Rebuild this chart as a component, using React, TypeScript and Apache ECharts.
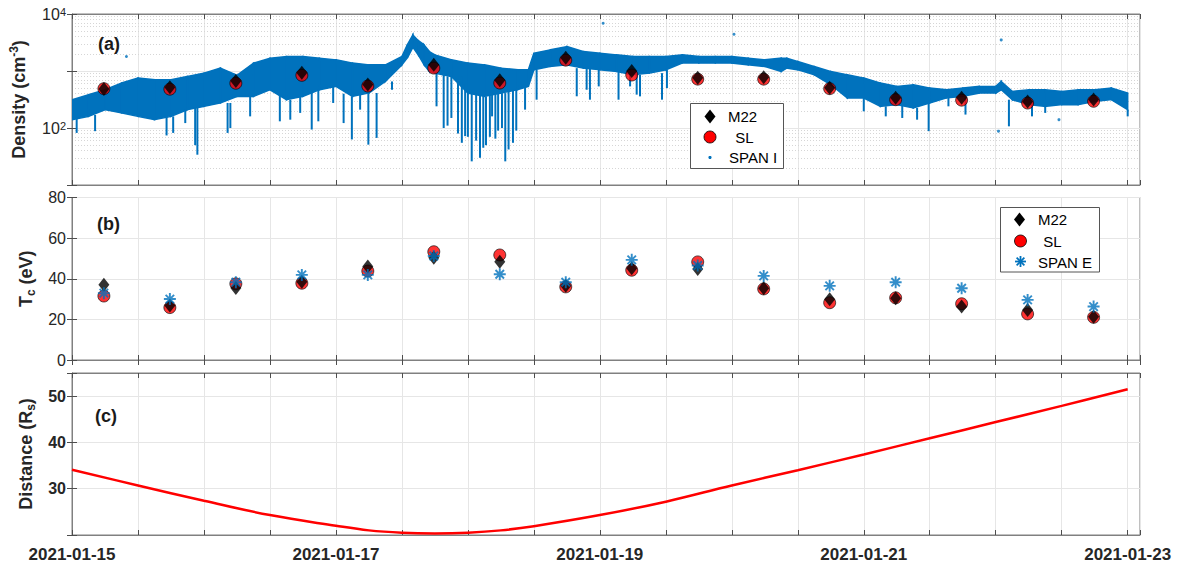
import React, { useEffect, useRef } from 'react';
import * as echarts from 'echarts';

// ---------- data ----------
const DATE_LABEL_HOURS = [0, 48, 96, 144, 192];
const DATE_LABELS = ['2021-01-15', '2021-01-17', '2021-01-19', '2021-01-21', '2021-01-23'];

// hours since 2021-01-15 00:00 of the model / electron samples
const SAMPLE_HOURS = [5.8, 17.8, 29.8, 41.8, 53.8, 65.8, 77.8, 89.8, 101.8, 113.8, 125.8, 137.8, 149.8, 161.8, 173.8, 185.8];
const DENSITY_M22 = [485, 520, 665, 930, 580, 1285, 690, 1710, 1000, 765, 775, 510, 338, 338, 293, 315];
const DENSITY_SL = [490, 480, 610, 840, 545, 1125, 615, 1550, 850, 720, 720, 490, 314, 308, 274, 294];
const TC_M22 = [37.0, 26.8, 35.5, 38.5, 46.0, 50.4, 48.4, 36.5, 45.2, 44.8, 35.3, 29.9, 30.4, 26.3, 24.6, 21.3];
const TC_SL = [31.5, 25.8, 37.5, 37.8, 43.8, 53.3, 51.7, 36.0, 44.2, 48.3, 35.0, 28.2, 30.6, 27.7, 22.7, 21.0];
const TC_SPANE = [32.9, 30.0, 38.3, 41.9, 41.9, 51.2, 42.2, 38.3, 49.3, 46.5, 41.4, 36.5, 38.3, 35.3, 29.6, 26.3];

// SPAN I density: core band (upper / lower envelope)
const SPANI_HOURS = [0, 3, 6, 9, 12, 15, 18, 21, 24, 27, 30, 33, 36, 39, 42, 45, 48, 51, 54, 57, 60, 61, 62, 63, 64, 65, 66, 69, 72, 75, 78, 81, 83, 84, 87, 90, 93, 96, 99, 102, 105, 108, 111, 114, 117, 120, 123, 126, 129, 130, 132, 135, 138, 141, 144, 147, 150, 153, 156, 159, 162, 165, 168, 169, 171, 174, 177, 180, 183, 186, 189, 192];
const SPANI_HIGH = [314, 384, 469, 614, 751, 702, 702, 802, 918, 1125, 840, 1375, 1680, 1790, 1790, 1680, 1570, 1375, 1282, 1282, 1790, 2900, 4300, 3400, 2900, 2195, 1920, 1570, 1375, 1283, 1122, 1050, 1050, 2050, 2350, 2685, 2195, 2050, 1920, 1795, 1795, 1795, 1920, 1795, 1795, 1795, 1680, 1570, 1680, 1680, 1470, 1200, 982, 859, 751, 614, 537, 574, 502, 469, 502, 537, 537, 656, 439, 469, 469, 439, 469, 469, 502, 410];
const SPANI_LOW = [140, 160, 210, 184, 160, 140, 160, 210, 239, 275, 358, 358, 469, 314, 358, 469, 536, 358, 411, 656, 1282, 1700, 2600, 1900, 1300, 980, 918, 802, 410, 359, 410, 469, 537, 1050, 1200, 1283, 1122, 1050, 982, 859, 918, 1050, 1375, 1375, 1375, 1375, 1283, 1200, 982, 1122, 1050, 859, 574, 336, 336, 240, 257, 225, 274, 336, 359, 410, 410, 469, 314, 257, 240, 257, 257, 293, 314, 210];
// SPAN I downward excursions: [hour, from, down to]
const SPANI_DIPS = [
  [0.85, 150, 82], [4.2, 170, 88], [17.2, 160, 74], [18.4, 160, 82], [20.6, 210, 122], [22.4, 230, 50], [22.8, 230, 34],
  [28.3, 275, 82], [28.8, 275, 100], [32.4, 358, 160], [37.8, 400, 131], [39.7, 314, 140], [41.5, 358, 184], [43.6, 469, 94],
  [44.8, 469, 131], [47.5, 536, 275], [49.4, 400, 122], [50.9, 358, 63], [52.4, 400, 210], [53.9, 411, 51], [55.4, 411, 67],
  [58.2, 656, 469], [66.3, 918, 240], [67.6, 850, 100], [68.3, 802, 110], [69.0, 802, 150], [70.2, 700, 80], [70.9, 802, 55],
  [71.5, 600, 72], [72.0, 410, 70], [72.7, 410, 26], [73.5, 410, 60], [74.2, 380, 30], [74.8, 380, 45], [75.3, 359, 50],
  [76.0, 380, 70], [76.4, 380, 160], [77.0, 400, 65], [77.5, 410, 90], [78.2, 410, 100], [78.8, 410, 26], [79.4, 469, 42],
  [80.2, 469, 55], [80.8, 469, 90], [82.4, 537, 210], [84.5, 1050, 314], [91.8, 1122, 360], [93.6, 1122, 469], [94.2, 1122, 314],
  [95.8, 1050, 537], [99.4, 982, 314], [101.5, 900, 537], [102.7, 859, 385], [103.3, 859, 359], [107.3, 918, 314], [108.2, 1050, 500],
  [144, 336, 196], [148, 240, 160], [151, 250, 150], [153.7, 225, 140], [155.8, 274, 88], [159.4, 336, 240], [162.5, 359, 172],
  [170.4, 314, 107], [174.6, 257, 160], [177, 240, 184], [192, 210, 160],
];
const SPANI_OUTLIERS = [[9.9, 1795], [96.6, 6870], [120.4, 4420], [169.0, 3510], [168.5, 88], [179.5, 140]];

// heliocentric distance
const DIST_HOURS = [0, 12, 24, 36, 48, 54, 60, 66, 72, 78, 84, 96, 108, 120, 132, 144, 156, 168, 180, 192];
const DIST_RS = [34.1, 30.7, 27.4, 24.3, 22.0, 21.0, 20.5, 20.35, 20.5, 21.0, 21.9, 24.3, 27.2, 30.7, 34.0, 37.4, 40.9, 44.4, 47.9, 51.5];

// ---------- style ----------
const FONT = '"Liberation Sans", Arial, Helvetica, sans-serif';
const BLUE = '#0072BD';
const RED = '#ff0000';
const AXIS_GRAY = '#808080';
const TEXT = '#262626';
const X_MAX = 194.24;
const MINOR_LOG_GRID = [20, 30, 40, 50, 60, 70, 80, 90, 200, 300, 400, 500, 600, 700, 800, 900, 2000, 3000, 4000, 5000, 6000, 7000, 8000, 9000];
const ASTERISK =
  'path://M0 0.42 L1 0.42 L1 0.58 L0 0.58 Z M0.42 0 L0.58 0 L0.58 1 L0.42 1 Z M0.203 0.089 L0.910 0.797 L0.797 0.910 L0.089 0.203 Z M0.910 0.203 L0.203 0.910 L0.089 0.797 L0.797 0.089 Z';

const GRIDS = [
  { left: 72, right: 41, top: 14, height: 171 },
  { left: 72, right: 41, top: 197.5, height: 162.5 },
  { left: 72, right: 41, top: 373, height: 162 },
];

function buildOption() {
  const xAxis: any[] = [];
  const yAxis: any[] = [];
  GRIDS.forEach((_, i) => {
    xAxis.push({
      type: 'value', gridIndex: i, min: 0, max: X_MAX, interval: 12, position: 'bottom',
      axisLine: { show: true, lineStyle: { color: AXIS_GRAY } },
      axisTick: { show: true, inside: true, length: 5, lineStyle: { color: '#4d4d4d' } },
      splitLine: { show: true, lineStyle: { color: '#e6e6e6', width: 1 } },
      axisLabel: i === 2 ? {
        show: true, margin: 11, fontFamily: FONT, fontSize: 17, fontWeight: 'bold', color: TEXT,
        formatter: (v: number) => {
          const k = DATE_LABEL_HOURS.findIndex((h) => Math.abs(h - v) < 1e-6);
          return k >= 0 ? DATE_LABELS[k] : '';
        },
      } : { show: false },
    });
    xAxis.push({
      type: 'value', gridIndex: i, min: 0, max: X_MAX, interval: 12, position: 'top',
      axisLine: { show: true, lineStyle: { color: AXIS_GRAY } },
      axisTick: { show: true, inside: true, length: 5, lineStyle: { color: '#4d4d4d' } },
      splitLine: { show: false }, axisLabel: { show: false },
    });
  });

  const nameRich = {
    b: { fontFamily: FONT, fontSize: 18, fontWeight: 'bold', color: TEXT, lineHeight: 20, verticalAlign: 'bottom' },
    bt: { fontFamily: FONT, fontSize: 18, fontWeight: 'bold', color: TEXT, lineHeight: 20, verticalAlign: 'top' },
    sup: { fontFamily: FONT, fontSize: 12, fontWeight: 'bold', color: TEXT, lineHeight: 12, padding: [0, 0, 11, 0], verticalAlign: 'top' },
    sub: { fontFamily: FONT, fontSize: 12, fontWeight: 'bold', color: TEXT, lineHeight: 12, padding: [11, 0, 0, 0], verticalAlign: 'bottom' },
  };
  const tickCommon = { show: true, inside: true, length: 5, lineStyle: { color: '#4d4d4d' } };

  // panel a
  yAxis.push({
    type: 'log', logBase: 10, gridIndex: 0, min: 10, max: 10000, position: 'left',
    name: '{b|Density (cm}{sup|-3}{b|)}', nameLocation: 'middle', nameGap: 31, nameTextStyle: { rich: nameRich },
    axisLine: { show: true, lineStyle: { color: AXIS_GRAY } }, axisTick: tickCommon,
    splitLine: { show: true, lineStyle: { color: '#e6e6e6' } },
    axisLabel: {
      margin: 6, color: TEXT,
      formatter: (v: number) => {
        const e = Math.round(Math.log10(v));
        return e === 2 || e === 4 ? `{b|10}{s|${e}}` : '';
      },
      rich: {
        b: { fontFamily: FONT, fontSize: 16, color: TEXT, lineHeight: 16, verticalAlign: 'bottom' },
        s: { fontFamily: FONT, fontSize: 11, color: TEXT, lineHeight: 11, padding: [0, 0, 10, 0], verticalAlign: 'top' },
      },
    },
  });
  yAxis.push({
    type: 'log', logBase: 10, gridIndex: 0, min: 10, max: 10000, position: 'right',
    axisLine: { show: true, lineStyle: { color: AXIS_GRAY } }, axisTick: tickCommon,
    splitLine: { show: false }, axisLabel: { show: false },
  });
  // panel b
  yAxis.push({
    type: 'value', gridIndex: 1, min: 0, max: 80, interval: 20, position: 'left',
    name: '{bt|T}{sub|c}{bt| (eV)}', nameLocation: 'middle', nameGap: 32, nameTextStyle: { rich: nameRich },
    axisLine: { show: true, lineStyle: { color: AXIS_GRAY } }, axisTick: tickCommon,
    splitLine: { show: true, lineStyle: { color: '#e6e6e6' } },
    axisLabel: { margin: 6, fontFamily: FONT, fontSize: 16, color: TEXT },
  });
  yAxis.push({
    type: 'value', gridIndex: 1, min: 0, max: 80, interval: 20, position: 'right',
    axisLine: { show: true, lineStyle: { color: AXIS_GRAY } }, axisTick: tickCommon,
    splitLine: { show: false }, axisLabel: { show: false },
  });
  // panel c
  yAxis.push({
    type: 'value', gridIndex: 2, min: 20, max: 55, interval: 10, position: 'left',
    name: '{bt|Distance (R}{sub|s}{bt|)}', nameLocation: 'middle', nameGap: 32, nameTextStyle: { rich: nameRich },
    axisLine: { show: true, lineStyle: { color: AXIS_GRAY } }, axisTick: tickCommon,
    splitLine: { show: true, lineStyle: { color: '#e6e6e6' } },
    axisLabel: {
      margin: 6, fontFamily: FONT, fontSize: 16, fontWeight: 'bold', color: TEXT,
      formatter: (v: number) => (v >= 25 && v <= 52 ? String(v) : ''),
    },
  });
  yAxis.push({
    type: 'value', gridIndex: 2, min: 20, max: 55, interval: 10, position: 'right',
    axisLine: { show: true, lineStyle: { color: AXIS_GRAY } }, axisTick: tickCommon,
    splitLine: { show: false }, axisLabel: { show: false },
  });

  const bandItems = SPANI_HOURS.slice(0, -1).map((h, i) => [
    h, SPANI_HIGH[i], SPANI_LOW[i], SPANI_HOURS[i + 1], SPANI_HIGH[i + 1], SPANI_LOW[i + 1],
  ]);

  const series: any[] = [
    {
      type: 'scatter', name: 'minor-grid', xAxisIndex: 0, yAxisIndex: 0, data: [], silent: true, z: 0,
      markLine: {
        z: 0, silent: true, symbol: 'none', label: { show: false }, animation: false,
        lineStyle: { color: '#d6d6d6', type: [1, 2], width: 1 },
        data: MINOR_LOG_GRID.map((v) => ({ yAxis: v })),
      },
    },
    {
      type: 'custom', name: 'SPAN I band', xAxisIndex: 0, yAxisIndex: 0, clip: true, z: 2,
      data: bandItems,
      encode: { x: [0, 3], y: [1, 2, 4, 5] },
      renderItem: (_p: any, api: any) => {
        const a = api.coord([api.value(0), api.value(1)]);
        const b = api.coord([api.value(3), api.value(4)]);
        const c = api.coord([api.value(3), api.value(5)]);
        const d = api.coord([api.value(0), api.value(2)]);
        return {
          type: 'polygon',
          shape: { points: [a, b, c, d] },
          style: { fill: BLUE, stroke: BLUE, lineWidth: 1.5 },
        };
      },
    },
    {
      type: 'custom', name: 'SPAN I dips', xAxisIndex: 0, yAxisIndex: 0, clip: true, z: 2,
      data: SPANI_DIPS,
      encode: { x: 0, y: [1, 2] },
      renderItem: (_p: any, api: any) => {
        const t = api.coord([api.value(0), api.value(1)]);
        const b = api.coord([api.value(0), api.value(2)]);
        return {
          type: 'rect',
          shape: { x: t[0] - 1, y: t[1], width: 2, height: b[1] - t[1] },
          style: { fill: BLUE },
        };
      },
    },
    {
      type: 'scatter', name: 'SPAN I', xAxisIndex: 0, yAxisIndex: 0, z: 2,
      data: SPANI_OUTLIERS, symbol: 'circle', symbolSize: 3, itemStyle: { color: BLUE },
    },
    {
      type: 'scatter', name: 'SL', xAxisIndex: 0, yAxisIndex: 0, z: 3,
      data: SAMPLE_HOURS.map((h, i) => [h, DENSITY_SL[i]]),
      symbol: 'circle', symbolSize: 12, itemStyle: { color: RED, borderColor: '#000', borderWidth: 0.8 },
    },
    {
      type: 'scatter', name: 'M22', xAxisIndex: 0, yAxisIndex: 0, z: 4,
      data: SAMPLE_HOURS.map((h, i) => [h, DENSITY_M22[i]]),
      symbol: 'diamond', symbolSize: [11, 14], itemStyle: { color: '#000' },
    },
    // panel b
    {
      type: 'scatter', name: 'SL', xAxisIndex: 2, yAxisIndex: 2, z: 3,
      data: SAMPLE_HOURS.map((h, i) => [h, TC_SL[i]]),
      symbol: 'circle', symbolSize: 12, itemStyle: { color: RED, borderColor: '#000', borderWidth: 0.8 },
    },
    {
      type: 'scatter', name: 'M22', xAxisIndex: 2, yAxisIndex: 2, z: 4,
      data: SAMPLE_HOURS.map((h, i) => [h, TC_M22[i]]),
      symbol: 'diamond', symbolSize: [11, 14], itemStyle: { color: '#000' },
    },
    {
      type: 'scatter', name: 'SPAN E', xAxisIndex: 2, yAxisIndex: 2, z: 5,
      data: SAMPLE_HOURS.map((h, i) => [h, TC_SPANE[i]]),
      symbol: ASTERISK, symbolSize: 12, itemStyle: { color: BLUE },
    },
    // panel c
    {
      type: 'line', name: 'Distance', xAxisIndex: 4, yAxisIndex: 4, z: 3,
      data: DIST_HOURS.map((h, i) => [h, DIST_RS[i]]),
      smooth: 0.4, showSymbol: false, lineStyle: { color: RED, width: 2.5 },
    },
  ];

  const txt = (text: string, x: number, y: number, extra: any = {}) => ({
    type: 'text', z: 100, x, y,
    style: { text, fontFamily: FONT, fontSize: 15, fill: '#000', verticalAlign: 'middle', align: 'left', ...extra },
  });
  const diamond = (cx: number, cy: number) => ({
    type: 'polygon', z: 100,
    shape: { points: [[cx, cy - 7], [cx + 5.5, cy], [cx, cy + 7], [cx - 5.5, cy]] },
    style: { fill: '#000' },
  });
  const redDot = (cx: number, cy: number) => ({
    type: 'circle', z: 100, shape: { cx, cy, r: 6 },
    style: { fill: RED, stroke: '#000', lineWidth: 0.8 },
  });
  const asterisk = (cx: number, cy: number) => {
    const r = 5.5;
    const d = r * 0.7071;
    const segs = [[-r, 0, r, 0], [0, -r, 0, r], [-d, -d, d, d], [-d, d, d, -d]];
    return {
      type: 'group', z: 100,
      children: segs.map((s) => ({
        type: 'line', z: 100,
        shape: { x1: cx + s[0], y1: cy + s[1], x2: cx + s[2], y2: cy + s[3] },
        style: { stroke: BLUE, lineWidth: 1.8 },
      })),
    };
  };

  const graphic = [
    txt('(a)', 98, 43.5, { fontSize: 18, fontWeight: 'bold', fill: '#1a1a1a' }),
    txt('(b)', 97, 223.5, { fontSize: 18, fontWeight: 'bold', fill: '#1a1a1a' }),
    txt('(c)', 95, 416, { fontSize: 18, fontWeight: 'bold', fill: '#1a1a1a' }),
    // legend a
    { type: 'rect', z: 99, shape: { x: 690.5, y: 103.5, width: 93, height: 65 }, style: { fill: '#fff', stroke: '#555', lineWidth: 1 } },
    diamond(710, 116.5),
    txt('M22', 728, 116.5),
    redDot(710, 137),
    txt(' SL', 731, 137.5),
    { type: 'circle', z: 100, shape: { cx: 710, cy: 157.5, r: 1.6 }, style: { fill: BLUE } },
    txt('SPAN I', 729, 157.5),
    // legend b
    { type: 'rect', z: 99, shape: { x: 1000.5, y: 207.5, width: 99, height: 64.5 }, style: { fill: '#fff', stroke: '#555', lineWidth: 1 } },
    diamond(1019.5, 219.5),
    txt('M22', 1038, 219.5),
    redDot(1020.5, 241),
    txt(' SL', 1039, 241),
    asterisk(1020.5, 261.5),
    txt('SPAN E', 1038, 262),
  ];

  return {
    animation: false,
    backgroundColor: '#fff',
    grid: GRIDS.map((g) => ({ ...g, show: true, borderColor: AXIS_GRAY, borderWidth: 1, containLabel: false })),
    xAxis,
    yAxis,
    series,
    graphic,
  };
}

export default function App() {
  const ref = useRef<HTMLDivElement>(null);
  useEffect(() => {
    if (!ref.current) return;
    const chart = echarts.init(ref.current, undefined, { renderer: 'svg' });
    chart.setOption(buildOption() as any);
    return () => chart.dispose();
  }, []);
  return (
    <div
      ref={ref}
      style={{ position: 'fixed', left: 0, top: 0, width: 1181, height: 565, background: '#fff' }}
    />
  );
}
